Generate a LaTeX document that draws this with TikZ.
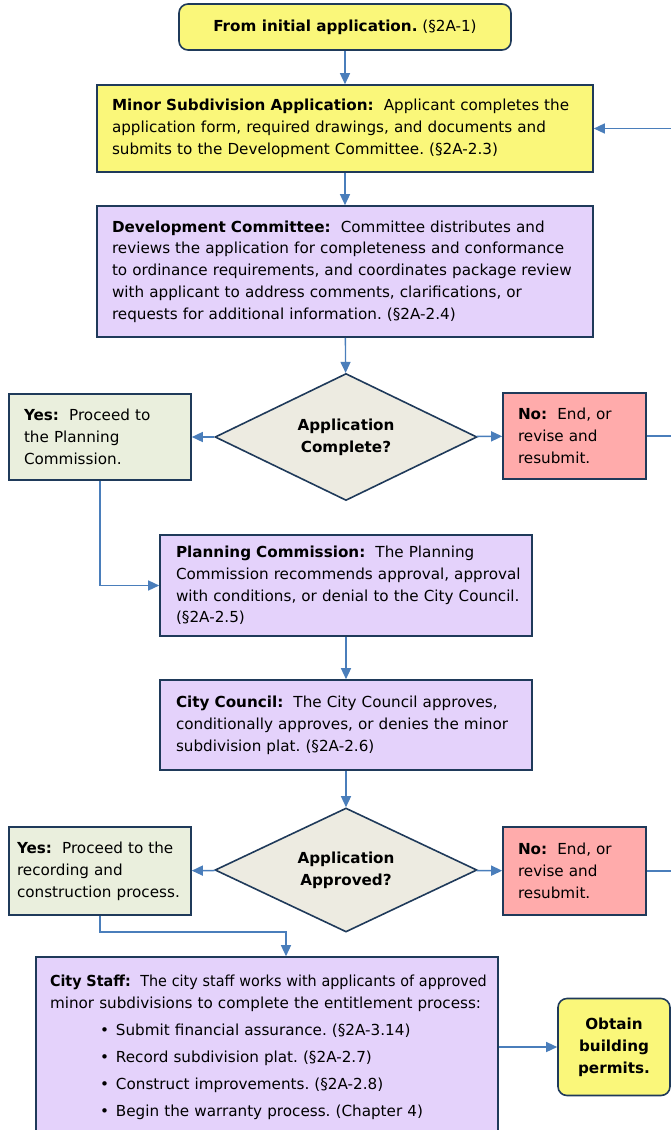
\documentclass[tikz,border=0pt]{standalone}
\usepackage{fontspec}
\setmainfont{DejaVu Sans}
\usetikzlibrary{shapes.geometric,arrows.meta}
\definecolor{bordc}{HTML}{1F3A5A}
\definecolor{arrc}{HTML}{4A7EBB}
\definecolor{yel}{HTML}{FAF77A}
\definecolor{pur}{HTML}{E4D2FB}
\definecolor{grn}{HTML}{EAEFDD}
\definecolor{pnk}{HTML}{FFABAB}
\definecolor{dia}{HTML}{EDEBE1}
\newcommand{\bodyfont}{\frenchspacing\fontsize{15.2}{21.8}\selectfont}
\newcommand{\lne}[1]{\mbox{#1}}
\tikzset{
  box/.style={draw=bordc, line width=1.6pt, inner xsep=0pt, inner ysep=0pt, align=left, font=\bodyfont},
  rbox/.style={box, rounded corners=9pt, align=center},
  decision/.style={diamond, aspect=2, draw=bordc, line width=1.6pt, fill=dia, inner sep=0pt,
    minimum width=262pt, minimum height=127pt, align=center, font=\bodyfont\bfseries},
  arr/.style={draw=arrc, line width=1.4pt, -{Triangle[length=11pt,width=10pt]}},
  plain/.style={draw=arrc, line width=1.4pt}
}
\begin{document}
\begin{tikzpicture}[x=1pt,y=-1pt]
\useasboundingbox (0,0) rectangle (670,1130);

\node[rbox, fill=yel, minimum width=332pt, minimum height=46pt] (from) at (345,27)
  {\textbf{From initial application.} (§2A-1)};

\node[box, fill=yel, minimum width=496pt, minimum height=87pt, text width=466pt] (minor) at (345,128.5)
  {\lne{\textbf{Minor Subdivision Application:}\ \ Applicant completes the}\\
   \lne{application form, required drawings, and documents and}\\
   \lne{submits to the Development Committee. (§2A-2.3)}};

\node[box, fill=pur, minimum width=496pt, minimum height=131pt, text width=466pt] (dev) at (345,271.5)
  {\lne{\textbf{Development Committee:}\ \ Committee distributes and}\\
   \lne{reviews the application for completeness and conformance}\\
   \lne{to ordinance requirements, and coordinates package review}\\
   \lne{with applicant to address comments, clarifications, or}\\
   \lne{requests for additional information. (§2A-2.4)}};

\node[decision] (dia1) at (346,437) {Application\\Complete?};

\node[box, fill=grn, minimum width=182pt, minimum height=86pt, text width=152pt] (yes1) at (100,437)
  {\lne{\textbf{Yes:}\ \ Proceed to}\\ \lne{the Planning}\\ \lne{Commission.}};

\node[box, fill=pnk, minimum width=143pt, minimum height=86pt, text width=113pt] (no1) at (574.5,436)
  {\lne{\textbf{No:}\ \ End, or}\\ \lne{revise and}\\ \lne{resubmit.}};

\node[box, fill=pur, minimum width=372pt, minimum height=101pt, text width=340pt] (plan) at (346,585.5)
  {\lne{\textbf{Planning Commission:}\ \ The Planning}\\
   \lne{Commission recommends approval, approval}\\
   \lne{with conditions, or denial to the City Council.}\\
   \lne{(§2A-2.5)}};

\node[box, fill=pur, minimum width=372pt, minimum height=90pt, text width=340pt] (council) at (346,725)
  {\lne{\textbf{City Council:}\ \ The City Council approves,}\\
   \lne{conditionally approves, or denies the minor}\\
   \lne{subdivision plat. (§2A-2.6)}};

\node[decision, minimum height=124pt] (dia2) at (346,870) {Application\\Approved?};

\node[box, fill=grn, minimum width=182pt, minimum height=88pt, text width=166pt] (yes2) at (100,871)
  {\lne{\textbf{Yes:}\ \ Proceed to the}\\ \lne{recording and}\\ \lne{construction process.}};

\node[box, fill=pnk, minimum width=143pt, minimum height=88pt, text width=113pt] (no2) at (574.5,871)
  {\lne{\textbf{No:}\ \ End, or}\\ \lne{revise and}\\ \lne{resubmit.}};

\node[box, fill=pur, minimum width=462pt, minimum height=180pt, text width=434pt] (staff) at (267,1047)
  {\lne{\scalebox{0.945}[1]{\textbf{City Staff:}\ \ The city staff works with applicants of approved}}\\
   \lne{minor subdivisions to complete the entitlement process:}\\[6pt]
   \lne{\hspace*{50pt}\textbullet\hspace{7pt}Submit financial assurance. (§2A-3.14)}\\[5pt]
   \lne{\hspace*{50pt}\textbullet\hspace{7pt}Record subdivision plat. (§2A-2.7)}\\[5pt]
   \lne{\hspace*{50pt}\textbullet\hspace{7pt}Construct improvements. (§2A-2.8)}\\[5pt]
   \lne{\hspace*{50pt}\textbullet\hspace{7pt}Begin the warranty process. (Chapter 4)}};

\node[rbox, fill=yel, minimum width=112pt, minimum height=97pt, font=\bodyfont\bfseries] (obtain) at (614,1047)
  {Obtain\\building\\permits.};

% connectors
\draw[arr] (from) -- (minor);
\draw[arr] (minor) -- (dev);
\draw[arr] (dev) -- (dia1);
\draw[arr] (dia1) -- (yes1);
\draw[arr] (dia1) -- (no1);
\draw[arr] (yes1.south) |- (plan.west);
\draw[arr] (plan) -- (council);
\draw[arr] (council) -- (dia2);
\draw[arr] (dia2) -- (yes2);
\draw[arr] (dia2) -- (no2);
\draw[arr] (yes2.south) -- ++(0,16) -| ([xshift=19pt]staff.north);
\draw[arr] (staff) -- (obtain);
\draw[arr] (no1.east) -- ++(40,0) |- (minor.east);
\draw[plain] (no2.east) -- ++(40,0) |- (no1.east);
\end{tikzpicture}
\end{document}
